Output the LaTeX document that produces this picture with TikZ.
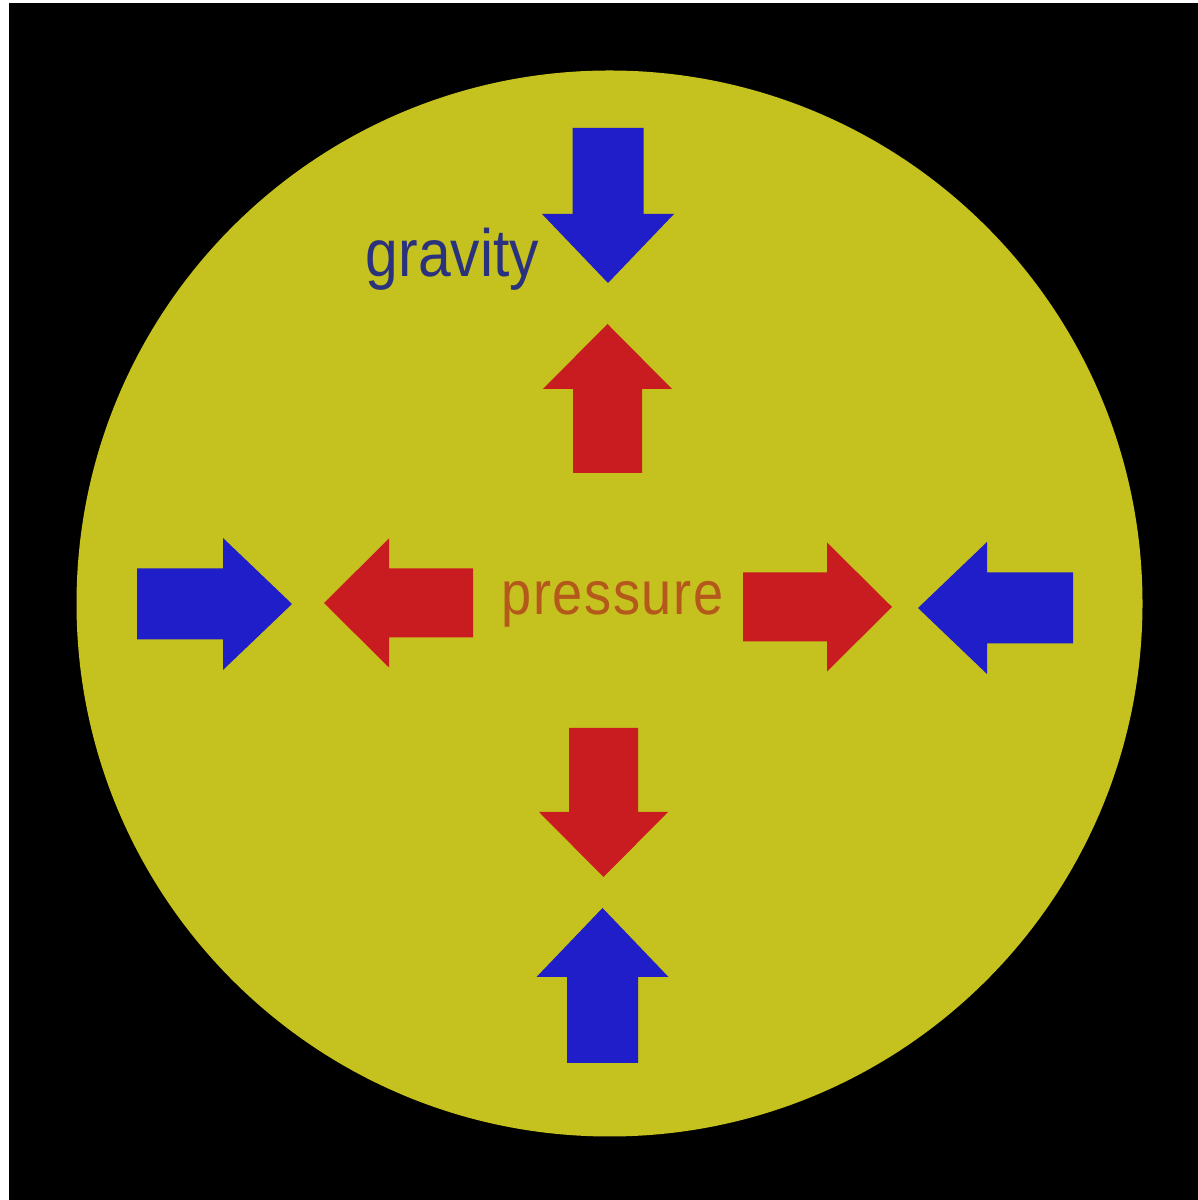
\documentclass[tikz,border=0pt]{standalone}
\usepackage{fontspec}
\usepackage{xcolor}
\usepackage{tikz}
\usetikzlibrary{positioning}

\newfontfamily\labelfont[FakeStretch=0.88]{Liberation Sans}

\definecolor{starfill}{RGB}{197,193,30}
\definecolor{gravblue}{RGB}{32,30,200}
\definecolor{pressred}{RGB}{200,28,32}
\definecolor{gravtext}{RGB}{42,50,125}
\definecolor{presstext}{RGB}{180,88,28}

\tikzset{
  pics/gravarrow/.style={code={
    \fill[gravblue] (0,-35.5) -- (86,-35.5) -- (86,-66) -- (155,0) -- (86,66) -- (86,35.5) -- (0,35.5) -- cycle;
  }},
  pics/pressarrow/.style={code={
    \fill[pressred] (0,-34.5) -- (84,-34.5) -- (84,-64.5) -- (149,0) -- (84,64.5) -- (84,34.5) -- (0,34.5) -- cycle;
  }}
}

\begin{document}
\begin{tikzpicture}[
      x=0.01cm, y=0.01cm,
      label/.style={inner sep=0pt, anchor=base, font=\labelfont}
    ]
    \useasboundingbox (0,0) rectangle (1198,1200);
    % Background and star
    \fill[black] (9,0) rectangle (1198,1197);
    \fill[starfill] (609.5,596.5) circle (533);

    % Gravity pushing in
    \pic[rotate=-90] (gtop) at (608,1072) {gravarrow};
    \pic[rotate=0] (gleft) at (137,596) {gravarrow};
    \pic[rotate=180] (gright) at (1073,592) {gravarrow};
    \pic[rotate=90] (gbottom) at (602.5,137) {gravarrow};

    % Pressure pushing out
    \pic[rotate=90] (ptop) at (607.5,727) {pressarrow};
    \pic[rotate=180] (pleft) at (473,597) {pressarrow};
    \pic[rotate=0] (pright) at (743,593) {pressarrow};
    \pic[rotate=-90] (pbottom) at (603.5,472) {pressarrow};

    % Labels
    \node[label, gravtext, font=\labelfont\fontsize{19}{22}\selectfont] (gravity) at (452.5,923) {gravity};
    \node[label, presstext, font=\labelfont\addfontfeature{LetterSpace=2.5}\fontsize{17.5}{21}\selectfont] (pressure) at (612.5,585) {pressure};
  \end{tikzpicture}
\end{document}
